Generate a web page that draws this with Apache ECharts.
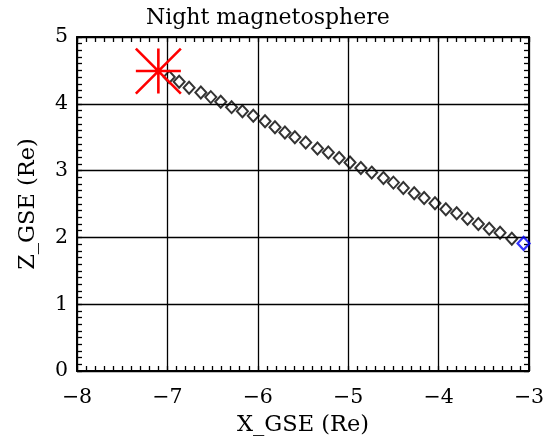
<!DOCTYPE html>
<html>
<head>
<meta charset="utf-8">
<script src="https://cdn.jsdelivr.net/npm/echarts@6/dist/echarts.min.js"></script>
<style>html,body{margin:0;padding:0;background:#fff}#c{width:548px;height:442px}</style>
</head>
<body>
<div id="c"></div>
<script>
const titleText = 'Night magnetosphere';
const xName = 'X_GSE (Re)';
const zName = 'Z_GSE (Re)';
const trackX = [-6.98, -6.87, -6.76, -6.63, -6.52, -6.41, -6.29, -6.17, -6.05, -5.92,
  -5.81, -5.70, -5.59, -5.47, -5.34, -5.22, -5.10, -4.98, -4.86, -4.74,
  -4.61, -4.50, -4.39, -4.27, -4.16, -4.04, -3.92, -3.80, -3.68, -3.56,
  -3.44, -3.32, -3.19, -3.06];
const trackZ = [4.40, 4.33, 4.24, 4.17, 4.10, 4.03, 3.95, 3.89, 3.82, 3.74,
  3.65, 3.57, 3.50, 3.42, 3.33, 3.27, 3.19, 3.12, 3.04, 2.97,
  2.89, 2.82, 2.74, 2.66, 2.59, 2.51, 2.42, 2.36, 2.28, 2.20,
  2.13, 2.07, 1.98, 1.91];
const startX = [-7.10];
const startZ = [4.49];

const n = trackX.length;
const blackPts = trackX.slice(0, n - 1).map((x, i) => [x, trackZ[i]]);
const bluePts = [[trackX[n - 1], trackZ[n - 1]]];
const starPts = startX.map((x, i) => [x, startZ[i]]);

const serif = 'DejaVu Serif';
const minus = v => String(v).replace('-', '\u2212');

const baseAxis = {
  axisLine: { show: true, onZero: false, lineStyle: { color: '#000', width: 2 } },
  axisTick: { show: true, inside: true, length: 5, lineStyle: { color: '#000', width: 1.3 } },
  minorTick: { show: true, splitNumber: 10, length: 5, lineStyle: { color: '#000', width: 1.3 } },
  splitLine: { show: false }
};

const chart = echarts.init(document.getElementById('c'), null, { renderer: 'canvas' });
chart.setOption({
  animation: false,
  backgroundColor: '#fff',
  title: {
    text: titleText, left: 141, top: 2,
    textStyle: { fontFamily: serif, fontSize: 22, fontWeight: 'normal', color: '#000' }
  },
  grid: { left: 77, right: 19, top: 37, bottom: 70, containLabel: false },
  xAxis: [
    Object.assign({}, baseAxis, {
      type: 'value', min: -8, max: -3, interval: 1, position: 'bottom',
      name: xName, nameLocation: 'middle', nameGap: 43,
      nameTextStyle: { fontFamily: serif, fontSize: 22.5, color: '#000' },
      axisLabel: { show: true, margin: 16, formatter: minus, fontFamily: serif, fontSize: 20.5, color: '#000' },
      splitLine: { show: true, lineStyle: { color: '#000', width: 1.3 } }
    }),
    Object.assign({}, baseAxis, {
      type: 'value', min: -8, max: -3, interval: 1, position: 'top',
      axisLabel: { show: false }
    })
  ],
  yAxis: [
    Object.assign({}, baseAxis, {
      type: 'value', min: 0, max: 5, interval: 1, position: 'left',
      name: zName, nameLocation: 'middle', nameGap: 37,
      nameTextStyle: { fontFamily: serif, fontSize: 22.5, color: '#000' },
      axisLabel: { show: true, margin: 9, formatter: minus, fontFamily: serif, fontSize: 20.5, color: '#000' },
      splitLine: { show: true, lineStyle: { color: '#000', width: 1.3 } }
    }),
    Object.assign({}, baseAxis, {
      type: 'value', min: 0, max: 5, interval: 1, position: 'right',
      axisLabel: { show: false }
    })
  ],
  series: [
    {
      type: 'scatter', data: blackPts, symbol: 'diamond', symbolSize: [11, 12],
      itemStyle: { color: 'rgba(0,0,0,0)', borderColor: '#000', borderWidth: 2 },
      z: 3
    },
    {
      type: 'scatter', data: bluePts, symbol: 'diamond', symbolSize: [12, 13],
      itemStyle: { color: 'rgba(0,0,0,0)', borderColor: '#0000ff', borderWidth: 2.2 },
      z: 4
    },
    {
      type: 'scatter', data: starPts,
      symbol: 'path://M-1,0L1,0M0,-1L0,1M-1,-1L1,1M-1,1L1,-1',
      symbolSize: 45,
      itemStyle: { color: 'rgba(0,0,0,0)', borderColor: '#ff0000', borderWidth: 2.6, opacity: 1 },
      z: 5
    }
  ]
});
</script>
</body>
</html>
